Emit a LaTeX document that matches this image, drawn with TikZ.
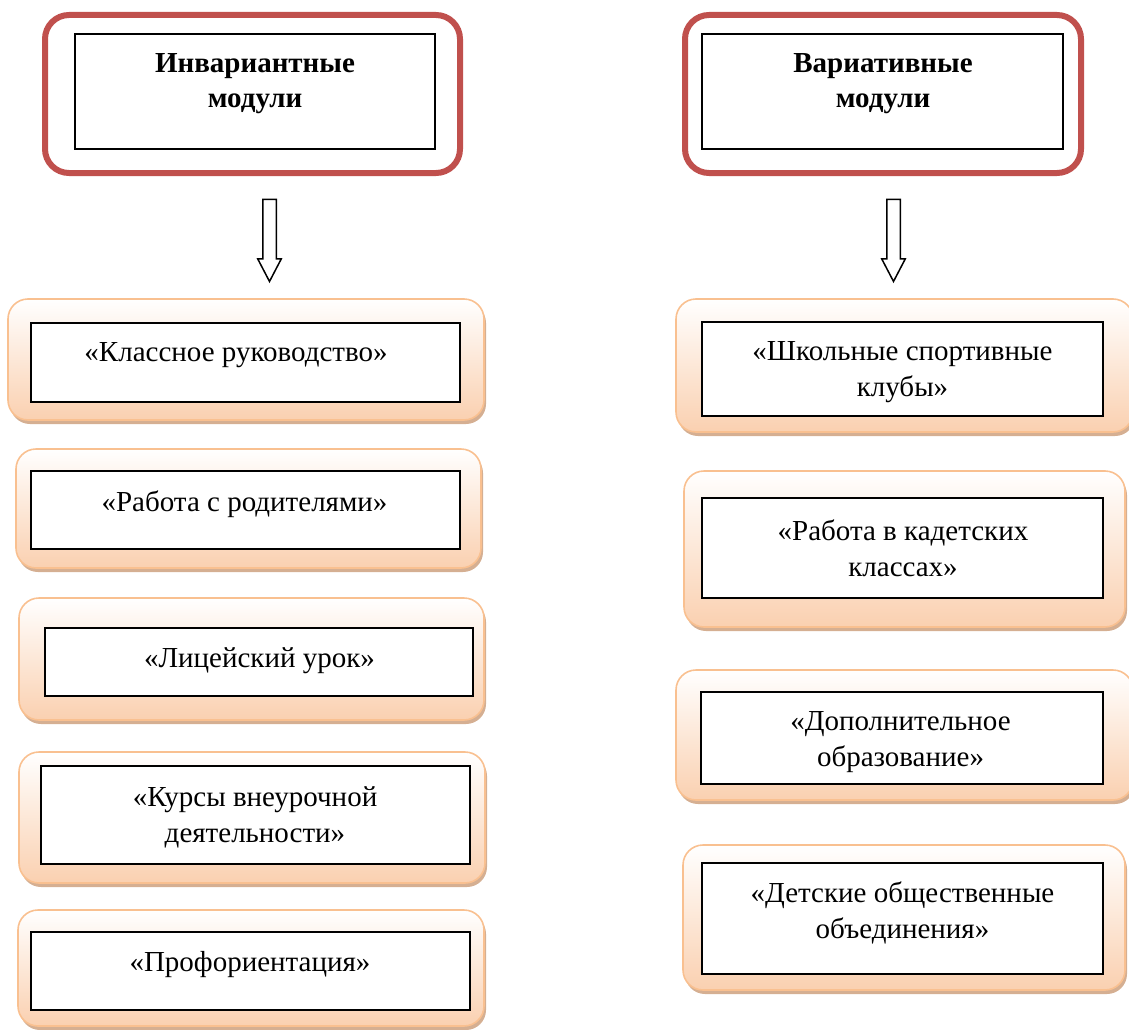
\documentclass[tikz,border=0pt]{standalone}
\usepackage{fontspec}
\setmainfont{Liberation Serif}
\usetikzlibrary{shapes.arrows,shadows}
\definecolor{redline}{RGB}{192,80,77}
\definecolor{orangeline}{RGB}{249,192,144}
\definecolor{peach}{RGB}{250,208,176}
\definecolor{shadowtan}{RGB}{208,166,134}
\begin{document}
\begin{tikzpicture}[x=1pt,y=-1pt,
    redbox/.style={draw=redline, line width=6pt, rounded corners=24pt},
    innerbox/.style={draw, line width=1.6pt, fill=white},
    modbox/.style={draw=orangeline, line width=1.6pt, rounded corners=20pt,
      top color=white, bottom color=peach,
      drop shadow={shadow xshift=2pt, shadow yshift=-4pt, fill=shadowtan, opacity=.9}},
    headtext/.style={font=\fontsize{29}{35}\selectfont\bfseries, align=center},
    modtext/.style={font=\fontsize{29}{36}\selectfont, align=center},
    hollow/.style={single arrow, draw, line width=1.5pt, fill=white,
      minimum height=82pt, inner sep=6pt, single arrow head extend=5pt,
      single arrow tip angle=55, rotate=-90}]
  \useasboundingbox (0,0) rectangle (1129,1030);

  % top boxes
  \node[redbox, minimum width=415pt, minimum height=158pt] (invar) at (252.5,94) {};
  \node[innerbox, minimum width=360pt, minimum height=115pt] (invarframe) at (255,91.5) {};
  \node[headtext] (invartext) at (255,84) {Инвариантные\\модули};

  \node[redbox, minimum width=396pt, minimum height=158pt] (var) at (883,94) {};
  \node[innerbox, minimum width=361pt, minimum height=115pt] (varframe) at (882.5,91.5) {};
  \node[headtext] (vartext) at (883,84) {Вариативные\\модули};

  % arrows
  \node[hollow] (invararrow) at (269.5,234) {};
  \node[hollow] (vararrow) at (893.5,234) {};

  % invariant modules
  \node[modbox, minimum width=476pt, minimum height=121pt] (class) at (246,359.5) {};
  \node[innerbox, minimum width=429pt, minimum height=79pt] (classframe) at (245.5,362.5) {};
  \node[modtext] (classtext) at (236,355.5) {«Классное руководство»};

  \node[modbox, minimum width=465pt, minimum height=119pt] (parents) at (248.5,508.5) {};
  \node[innerbox, minimum width=429pt, minimum height=78pt] (parentsframe) at (245.5,510) {};
  \node[modtext] (parentstext) at (244.5,504.5) {«Работа с родителями»};

  \node[modbox, minimum width=465pt, minimum height=122pt] (lesson) at (251.5,659) {};
  \node[innerbox, minimum width=428pt, minimum height=68pt] (lessonframe) at (259,662) {};
  \node[modtext] (lessontext) at (259.5,660.5) {«Лицейский урок»};

  \node[modbox, minimum width=466pt, minimum height=131pt] (courses) at (252,817.5) {};
  \node[innerbox, minimum width=429pt, minimum height=98pt] (coursesframe) at (255.5,815) {};
  \node[modtext] (coursestext) at (255,817) {«Курсы внеурочной\\деятельности»};

  \node[modbox, minimum width=466pt, minimum height=116pt] (career) at (251,968) {};
  \node[innerbox, minimum width=439pt, minimum height=78pt] (careerframe) at (250.5,971) {};
  \node[modtext] (careertext) at (250,964.5) {«Профориентация»};

  % variative modules
  \node[modbox, minimum width=457pt, minimum height=133pt] (sport) at (904.5,365.5) {};
  \node[innerbox, minimum width=401pt, minimum height=94pt] (sportframe) at (902.5,369) {};
  \node[modtext] (sporttext) at (902.5,372) {«Школьные спортивные\\клубы»};

  \node[modbox, minimum width=441pt, minimum height=156pt] (cadet) at (904.5,549) {};
  \node[innerbox, minimum width=401pt, minimum height=100pt] (cadetframe) at (902.5,548) {};
  \node[modtext] (cadettext) at (903,548) {«Работа в кадетских\\классах»};

  \node[modbox, minimum width=457pt, minimum height=130pt] (extra) at (904.5,735) {};
  \node[innerbox, minimum width=402pt, minimum height=92pt] (extraframe) at (902,738) {};
  \node[modtext] (extratext) at (900.5,742) {«Дополнительное\\образование»};

  \node[modbox, minimum width=442pt, minimum height=145pt] (union) at (904,917.5) {};
  \node[innerbox, minimum width=401pt, minimum height=111pt] (unionframe) at (902.5,918.5) {};
  \node[modtext] (uniontext) at (902.5,913) {«Детские общественные\\объединения»};
\end{tikzpicture}
\end{document}
